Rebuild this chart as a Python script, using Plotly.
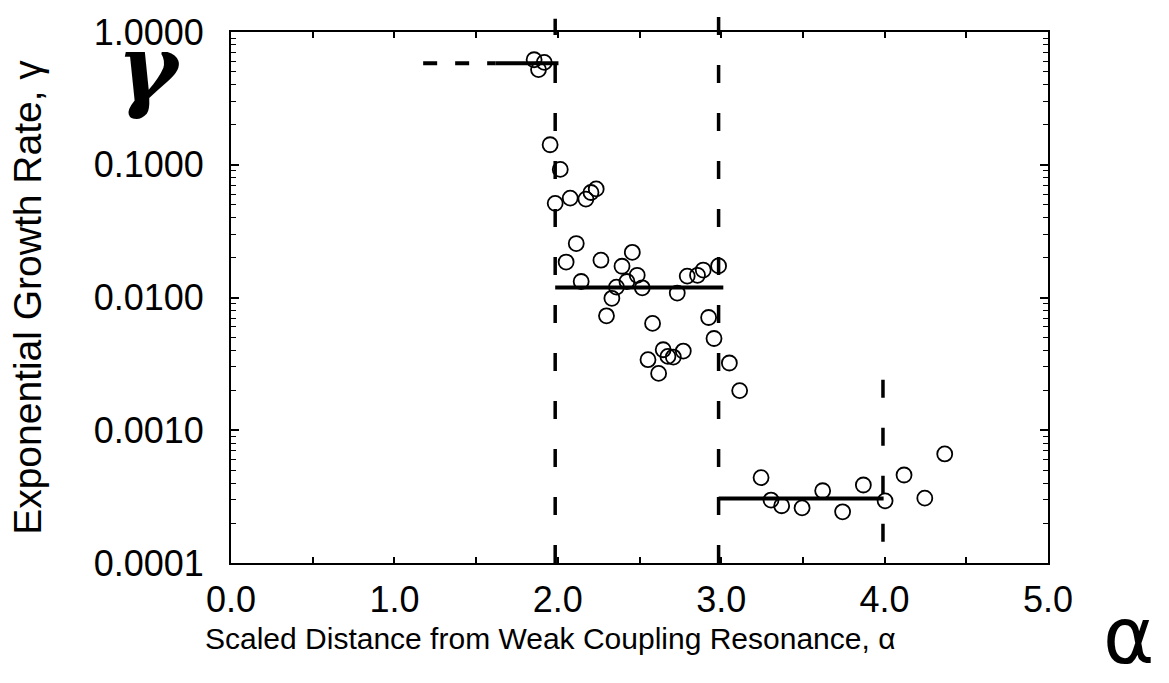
import plotly.graph_objects as go

# ---- data ----
alpha = [1.855, 1.882, 1.917, 1.953, 2.015,
         1.984, 2.076, 2.172, 2.203, 2.235,
         2.113, 2.051, 2.143, 2.264, 2.393, 2.456, 2.486, 2.423, 2.359, 2.517,
         2.331, 2.298, 2.731, 2.792, 2.855, 2.890, 2.984,
         2.580, 2.923, 2.956, 2.645, 2.674, 2.707, 2.768, 2.552, 2.617,
         3.050, 3.113,
         3.244, 3.305, 3.370, 3.495, 3.621, 3.743, 3.870, 4.003, 4.119, 4.246, 4.368]
gamma = [0.618, 0.521, 0.590, 0.1415, 0.0922,
         0.0512, 0.0561, 0.0551, 0.0618, 0.0658,
         0.0255, 0.0185, 0.0132, 0.0191, 0.0172, 0.0219, 0.0147, 0.0132, 0.01198, 0.01183,
         0.00986, 0.00728, 0.0108, 0.0145, 0.0147, 0.0161, 0.0173,
         0.00638, 0.00707, 0.00491, 0.00404, 0.00360, 0.00356, 0.00395, 0.00340, 0.00268,
         0.00321, 0.00199,
         0.000440, 0.000298, 0.000270, 0.000260, 0.000350, 0.000243, 0.000387, 0.000294,
         0.000460, 0.000308, 0.000663]

level_x0 = [1.62, 1.984, 2.984]
level_x1 = [2.004, 3.013, 3.994]
level_y = [0.581, 0.0119, 0.000306]
extrap_x = [1.176, 1.62]
extrap_y = [0.581, 0.581]

boundaries = [1.984, 2.984, 3.99]
boundary_top = [1.025, 1.04, 0.369]   # paper fractions
boundary_bottom = [0.0, 0.0, 0.04]

x_ticks = [0, 1, 2, 3, 4, 5]
x_ticklabels = ["0.0", "1.0", "2.0", "3.0", "4.0", "5.0"]
y_ticks = [1, 0.1, 0.01, 0.001, 0.0001]
y_ticklabels = ["1.0000", "0.1000", "0.0100", "0.0010", "0.0001"]
y_minor_mantissas = [2, 3, 4, 5, 6, 7, 8, 9]
y_minor_ticks = [m * d for d in [0.0001, 0.001, 0.01, 0.1] for m in y_minor_mantissas]

x_title = "Scaled Distance from Weak Coupling Resonance, α"
y_title = "Exponential Growth Rate, γ"

FONT = "Liberation Sans, Arial, Helvetica, sans-serif"

fig = go.Figure()

fig.add_trace(go.Scatter(x=extrap_x, y=extrap_y, mode="lines",
                         line=dict(color="black", width=4, dash="14px,18px"),
                         showlegend=False, hoverinfo="skip"))
for x0, x1, yv in zip(level_x0, level_x1, level_y):
    fig.add_trace(go.Scatter(x=[x0, x1], y=[yv, yv], mode="lines",
                             line=dict(color="black", width=4),
                             showlegend=False, hoverinfo="skip"))

fig.add_trace(go.Scatter(x=alpha, y=gamma, mode="markers",
                         marker=dict(symbol="circle-open", size=15, color="black",
                                     line=dict(width=1.8, color="black")),
                         showlegend=False, cliponaxis=False))

for xb, yt, yb in zip(boundaries, boundary_top, boundary_bottom):
    fig.add_shape(type="line", xref="x", yref="paper", x0=xb, x1=xb, y0=yb, y1=yt,
                  line=dict(color="black", width=3.5, dash="18px,30px"))

# x-axis title (offset to the left as in the reference)
fig.add_annotation(text=x_title, xref="paper", yref="paper", x=0.39, y=-0.143,
                   showarrow=False, xanchor="center", yanchor="middle",
                   font=dict(family=FONT, size=30, color="black"))

# hand-written symbols
fig.add_annotation(text="<b><i>γ</i></b>", xref="paper", yref="paper", x=-0.10, y=0.932,
                   showarrow=False, xanchor="center", yanchor="middle",
                   font=dict(family="DejaVu Serif", size=92, color="black"))
fig.add_annotation(text="α", xref="paper", yref="paper", x=1.098, y=-0.137,
                   showarrow=False, xanchor="center", yanchor="middle",
                   font=dict(family="DejaVu Sans", size=78, color="black"))

fig.update_xaxes(range=[0, 5], tickvals=x_ticks, ticktext=x_ticklabels,
                 ticks="inside", ticklen=6, tickwidth=1.5, tickcolor="black",
                 minor=dict(dtick=0.5, ticks="inside", ticklen=6, tickwidth=1.5, tickcolor="black"),
                 showline=True, linecolor="black", linewidth=2, mirror="ticks",
                 showgrid=False, zeroline=False,
                 tickfont=dict(family=FONT, size=36, color="black"),
                 ticklabelstandoff=4)
fig.update_yaxes(type="log", range=[-4, 0], tickvals=y_ticks, ticktext=y_ticklabels,
                 ticks="inside", ticklen=8, tickwidth=1.5, tickcolor="black",
                 minor=dict(tickvals=y_minor_ticks, ticks="inside", ticklen=5, tickwidth=1.2,
                            tickcolor="black", showgrid=False),
                 showline=True, linecolor="black", linewidth=2, mirror="ticks",
                 showgrid=False, zeroline=False,
                 tickfont=dict(family=FONT, size=36, color="black"),
                 ticklabelstandoff=18,
                 title=dict(text=y_title,
                            font=dict(family=FONT, size=39, color="black"), standoff=40))

fig.update_layout(width=1169, height=683, margin=dict(l=231, r=121, t=26, b=120),
                  paper_bgcolor="white", plot_bgcolor="white", showlegend=False)

fig.write_html("out.html")
